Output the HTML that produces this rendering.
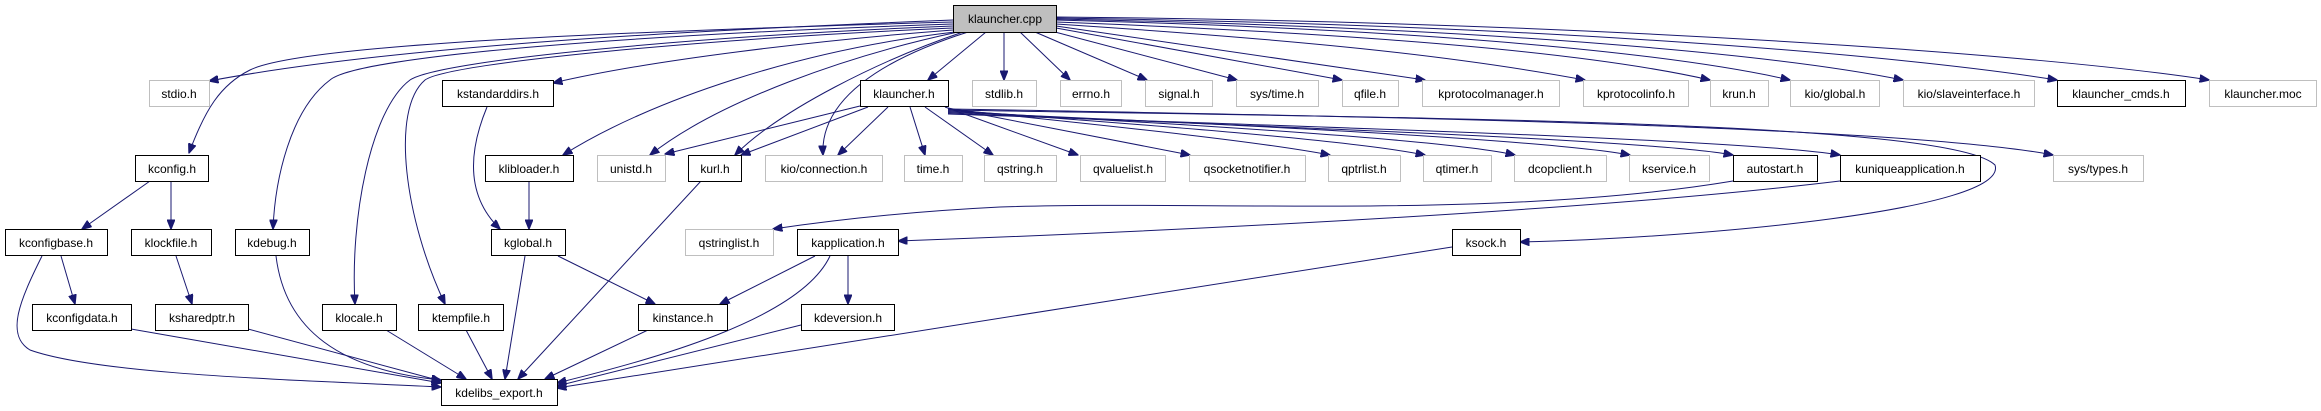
<!DOCTYPE html>
<html><head><meta charset="utf-8"><style>
html,body{margin:0;padding:0;background:#fff;}
svg{display:block;}
text{font-family:"Liberation Sans",Arial,sans-serif;font-size:12px;fill:#000;text-anchor:middle;}
.g{fill:#fff;stroke:#bfbfbf;stroke-width:1;}
.b{fill:#fff;stroke:#000;stroke-width:1;}
.e{fill:none;stroke:#191970;stroke-width:1;}
</style></head><body>
<svg width="2321" height="411" viewBox="0 0 2321 411" xmlns="http://www.w3.org/2000/svg">
<defs><marker id="a" markerWidth="10" markerHeight="8" refX="9.5" refY="4" orient="auto" markerUnits="userSpaceOnUse"><path d="M0,0 L10,4 L0,8 z" fill="#191970" stroke="#191970"/></marker></defs>
<g class="e" marker-end="url(#a)">
<!-- from klauncher.cpp -->
<path d="M953,20 C700,30 400,45 209,81"/>
<path d="M953,22 C600,32 300,45 250,70 C220,85 205,110 189,153"/>
<path d="M953,24 C650,34 360,55 330,80 C290,110 275,180 273,229"/>
<path d="M953,26 C700,36 440,60 410,80 C370,110 350,220 355,304"/>
<path d="M953,28 C720,38 450,62 425,80 C390,110 405,220 445,304"/>
<path d="M953,30 C820,40 650,60 553,83"/>
<path d="M955,32 C800,50 650,100 563,155"/>
<path d="M958,32 C850,55 720,100 650,155"/>
<path d="M963,32 C880,60 780,110 735,155"/>
<path d="M968,32 C880,60 820,100 823,155"/>
<path d="M986,32 L928,80"/>
<path d="M1004,32 L1004,80"/>
<path d="M1020,32 L1070,80"/>
<path d="M1035,32 L1147,80"/>
<path d="M1055,32 L1237,80"/>
<path d="M1056,28 L1342,80"/>
<path d="M1056,26 L1425,80"/>
<path d="M1056,24 C1300,40 1450,55 1585,80"/>
<path d="M1056,22 C1400,35 1600,55 1710,80"/>
<path d="M1056,20 C1450,30 1680,55 1790,80"/>
<path d="M1056,19 C1500,28 1780,55 1903,80"/>
<path d="M1056,18 C1550,25 1900,55 2057,80"/>
<path d="M1056,17 C1600,22 2050,55 2209,80"/>
<!-- from klauncher.h -->
<path d="M860,106 L665,154"/>
<path d="M868,107 L741,155"/>
<path d="M888,107 L838,155"/>
<path d="M910,107 L925,155"/>
<path d="M925,107 L993,155"/>
<path d="M945,107 L1078,155"/>
<path d="M948,108 L1190,155"/>
<path d="M948,109 C1100,125 1250,140 1330,155"/>
<path d="M948,110 C1150,125 1350,140 1425,155"/>
<path d="M948,111 C1200,125 1450,140 1515,155"/>
<path d="M948,112 C1250,125 1550,140 1630,155"/>
<path d="M948,113 C1300,128 1650,140 1733,155"/>
<path d="M948,114 C1350,128 1750,140 1840,155"/>
<path d="M948,109 C1300,115 1900,125 2053,155"/>
<path d="M948,110 C1400,118 1950,120 1995,165 C2010,210 1700,238 1520,242"/>
<!-- others -->
<path d="M150,181 L82,229"/>
<path d="M171,181 L171,229"/>
<path d="M42,256 C20,300 5,335 30,350 C100,375 300,380 441,387"/>
<path d="M61,256 L75,304"/>
<path d="M176,256 L192,304"/>
<path d="M131,329 L441,383"/>
<path d="M248,329 L441,381"/>
<path d="M276,256 C285,330 340,370 441,380"/>
<path d="M386,330 L466,379"/>
<path d="M466,330 L492,379"/>
<path d="M487,107 C465,160 470,200 500,229"/>
<path d="M529,181 L529,229"/>
<path d="M525,256 L505,379"/>
<path d="M558,256 L655,304"/>
<path d="M701,181 L518,379"/>
<path d="M648,330 L545,379"/>
<path d="M815,256 L720,304"/>
<path d="M830,256 C800,320 650,360 557,383"/>
<path d="M848,256 L848,304"/>
<path d="M801,325 L557,386"/>
<path d="M1452,247 L557,388"/>
<path d="M1733,181 C1500,220 1200,200 1000,207 C900,212 820,222 773,229"/>
<path d="M1840,181 C1600,210 1200,230 898,241"/>
</g>
<!-- nodes -->
<rect x="953.5" y="5.5" width="103" height="27" fill="#bfbfbf" stroke="#000"/><text x="1005" y="23">klauncher.cpp</text>
<rect class="g" x="149.5" y="80.5" width="60" height="26"/><text x="179" y="98">stdio.h</text>
<rect class="b" x="442.5" y="80.5" width="111" height="26"/><text x="498" y="98">kstandarddirs.h</text>
<rect class="b" x="860.5" y="80.5" width="88" height="26"/><text x="904" y="98">klauncher.h</text>
<rect class="g" x="972.5" y="80.5" width="64" height="26"/><text x="1004" y="98">stdlib.h</text>
<rect class="g" x="1060.5" y="80.5" width="61" height="26"/><text x="1091" y="98">errno.h</text>
<rect class="g" x="1145.5" y="80.5" width="67" height="26"/><text x="1179" y="98">signal.h</text>
<rect class="g" x="1236.5" y="80.5" width="82" height="26"/><text x="1277" y="98">sys/time.h</text>
<rect class="g" x="1342.5" y="80.5" width="56" height="26"/><text x="1370" y="98">qfile.h</text>
<rect class="g" x="1422.5" y="80.5" width="137" height="26"/><text x="1491" y="98">kprotocolmanager.h</text>
<rect class="g" x="1583.5" y="80.5" width="105" height="26"/><text x="1636" y="98">kprotocolinfo.h</text>
<rect class="g" x="1710.5" y="80.5" width="58" height="26"/><text x="1739" y="98">krun.h</text>
<rect class="g" x="1790.5" y="80.5" width="89" height="26"/><text x="1835" y="98">kio/global.h</text>
<rect class="g" x="1903.5" y="80.5" width="131" height="26"/><text x="1969" y="98">kio/slaveinterface.h</text>
<rect class="b" x="2057.5" y="80.5" width="128" height="26"/><text x="2121" y="98">klauncher_cmds.h</text>
<rect class="g" x="2209.5" y="80.5" width="107" height="26"/><text x="2263" y="98">klauncher.moc</text>

<rect class="b" x="135.5" y="155.5" width="73" height="26"/><text x="172" y="173">kconfig.h</text>
<rect class="b" x="485.5" y="155.5" width="88" height="26"/><text x="529" y="173">klibloader.h</text>
<rect class="g" x="597.5" y="155.5" width="68" height="26"/><text x="631" y="173">unistd.h</text>
<rect class="b" x="688.5" y="155.5" width="53" height="26"/><text x="715" y="173">kurl.h</text>
<rect class="g" x="765.5" y="155.5" width="117" height="26"/><text x="824" y="173">kio/connection.h</text>
<rect class="g" x="904.5" y="155.5" width="58" height="26"/><text x="933" y="173">time.h</text>
<rect class="g" x="984.5" y="155.5" width="72" height="26"/><text x="1020" y="173">qstring.h</text>
<rect class="g" x="1080.5" y="155.5" width="85" height="26"/><text x="1123" y="173">qvaluelist.h</text>
<rect class="g" x="1189.5" y="155.5" width="116" height="26"/><text x="1247" y="173">qsocketnotifier.h</text>
<rect class="g" x="1328.5" y="155.5" width="72" height="26"/><text x="1364" y="173">qptrlist.h</text>
<rect class="g" x="1423.5" y="155.5" width="68" height="26"/><text x="1457" y="173">qtimer.h</text>
<rect class="g" x="1514.5" y="155.5" width="92" height="26"/><text x="1560" y="173">dcopclient.h</text>
<rect class="g" x="1629.5" y="155.5" width="80" height="26"/><text x="1669" y="173">kservice.h</text>
<rect class="b" x="1733.5" y="155.5" width="84" height="26"/><text x="1775" y="173">autostart.h</text>
<rect class="b" x="1840.5" y="155.5" width="140" height="26"/><text x="1910" y="173">kuniqueapplication.h</text>
<rect class="g" x="2053.5" y="155.5" width="90" height="26"/><text x="2098" y="173">sys/types.h</text>

<rect class="b" x="5.5" y="229.5" width="102" height="26"/><text x="56" y="247">kconfigbase.h</text>
<rect class="b" x="131.5" y="229.5" width="80" height="26"/><text x="171" y="247">klockfile.h</text>
<rect class="b" x="235.5" y="229.5" width="74" height="26"/><text x="272" y="247">kdebug.h</text>
<rect class="b" x="491.5" y="229.5" width="74" height="26"/><text x="528" y="247">kglobal.h</text>
<rect class="g" x="685.5" y="229.5" width="88" height="26"/><text x="729" y="247">qstringlist.h</text>
<rect class="b" x="797.5" y="229.5" width="101" height="26"/><text x="848" y="247">kapplication.h</text>
<rect class="b" x="1452.5" y="229.5" width="68" height="26"/><text x="1486" y="247">ksock.h</text>

<rect class="b" x="32.5" y="304.5" width="99" height="26"/><text x="82" y="322">kconfigdata.h</text>
<rect class="b" x="155.5" y="304.5" width="93" height="26"/><text x="202" y="322">ksharedptr.h</text>
<rect class="b" x="322.5" y="304.5" width="74" height="26"/><text x="359" y="322">klocale.h</text>
<rect class="b" x="418.5" y="304.5" width="85" height="26"/><text x="461" y="322">ktempfile.h</text>
<rect class="b" x="638.5" y="304.5" width="89" height="26"/><text x="683" y="322">kinstance.h</text>
<rect class="b" x="801.5" y="304.5" width="93" height="26"/><text x="848" y="322">kdeversion.h</text>

<rect class="b" x="441.5" y="379.5" width="116" height="26"/><text x="499" y="397">kdelibs_export.h</text>
</svg>
</body></html>
